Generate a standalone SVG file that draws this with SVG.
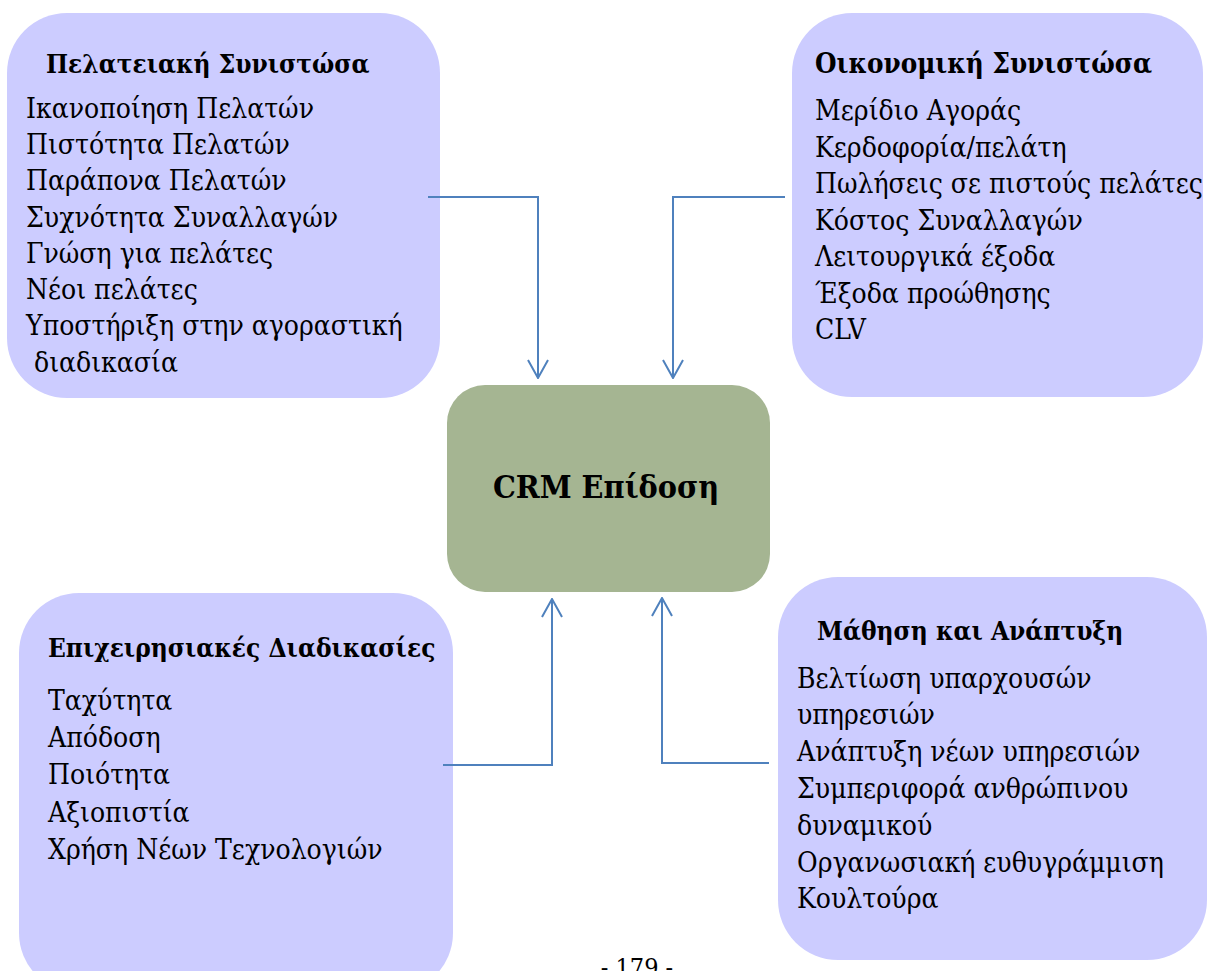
<svg xmlns="http://www.w3.org/2000/svg" width="1208" height="971" viewBox="0 0 1208 971">
  <style>
    .panel { fill: #ccccff; }
    .core { fill: #a5b592; }
    text { font-family: "DejaVu Serif", "Liberation Serif", serif; font-stretch: condensed; fill: #000; }
    .head { font-weight: bold; font-size: 26px; }
    .item { font-size: 28px; }
    .title { font-weight: bold; font-size: 32px; }
    .page { font-size: 25px; }
    .link { fill: none; stroke: #4f81bd; stroke-width: 2; }
  </style>
  <defs>
    <marker id="open-arrow" viewBox="0 0 20 22" refX="19" refY="11" markerWidth="20" markerHeight="22" markerUnits="userSpaceOnUse" orient="auto">
      <path d="M1,1 L19,11 L1,21" fill="none" stroke="#4f81bd" stroke-width="2"/>
    </marker>
  </defs>
  <rect width="1208" height="971" fill="#ffffff"/>

  <!-- Customer component -->
  <g id="customer">
    <rect class="panel" x="7" y="13" width="433" height="385" rx="60" ry="60"/>
    <text class="head" x="46" y="73">Πελατειακή Συνιστώσα</text>
    <text class="item" x="26" y="118">Ικανοποίηση Πελατών</text>
    <text class="item" x="26" y="154">Πιστότητα Πελατών</text>
    <text class="item" x="26" y="190">Παράπονα Πελατών</text>
    <text class="item" x="26" y="227">Συχνότητα Συναλλαγών</text>
    <text class="item" x="26" y="263">Γνώση για πελάτες</text>
    <text class="item" x="26" y="299">Νέοι πελάτες</text>
    <text class="item" x="26" y="335">Υποστήριξη στην αγοραστική</text>
    <text class="item" x="26" y="372" xml:space="preserve"> διαδικασία</text>
  </g>

  <!-- Financial component -->
  <g id="financial">
    <rect class="panel" x="792" y="13" width="411" height="384" rx="60" ry="60"/>
    <text class="head" x="815" y="73" style="font-size:27.5px">Οικονομική Συνιστώσα</text>
    <text class="item" x="815" y="120">Μερίδιο Αγοράς</text>
    <text class="item" x="815" y="157">Κερδοφορία/πελάτη</text>
    <text class="item" x="815" y="193">Πωλήσεις σε πιστούς πελάτες</text>
    <text class="item" x="815" y="230">Κόστος Συναλλαγών</text>
    <text class="item" x="815" y="266">Λειτουργικά έξοδα</text>
    <text class="item" x="815" y="303">Έξοδα προώθησης</text>
    <text class="item" x="815" y="339">CLV</text>
  </g>

  <!-- Central performance node -->
  <g id="crm">
    <rect class="core" x="447" y="385" width="323" height="207" rx="38" ry="38"/>
    <text class="title" x="606" y="498" text-anchor="middle">CRM Επίδοση</text>
  </g>

  <!-- Business processes -->
  <g id="processes">
    <rect class="panel" x="19" y="593" width="434" height="400" rx="60" ry="60"/>
    <text class="head" x="48" y="657">Επιχειρησιακές Διαδικασίες</text>
    <text class="item" x="48" y="710">Ταχύτητα</text>
    <text class="item" x="48" y="747">Απόδοση</text>
    <text class="item" x="48" y="784">Ποιότητα</text>
    <text class="item" x="48" y="822">Αξιοπιστία</text>
    <text class="item" x="48" y="859">Χρήση Νέων Τεχνολογιών</text>
  </g>

  <!-- Learning and growth -->
  <g id="learning">
    <rect class="panel" x="778" y="577" width="429" height="383" rx="60" ry="60"/>
    <text class="head" x="817" y="640">Μάθηση και Ανάπτυξη</text>
    <text class="item" x="797" y="688">Βελτίωση υπαρχουσών</text>
    <text class="item" x="797" y="724">υπηρεσιών</text>
    <text class="item" x="797" y="761">Ανάπτυξη νέων υπηρεσιών</text>
    <text class="item" x="797" y="798">Συμπεριφορά ανθρώπινου</text>
    <text class="item" x="797" y="835">δυναμικού</text>
    <text class="item" x="797" y="872">Οργανωσιακή ευθυγράμμιση</text>
    <text class="item" x="797" y="908">Κουλτούρα</text>
  </g>

  <!-- Connectors into the central node -->
  <g id="connectors">
    <polyline class="link" points="428,197 538,197 538,378" marker-end="url(#open-arrow)"/>
    <polyline class="link" points="785,197 673,197 673,378" marker-end="url(#open-arrow)"/>
    <polyline class="link" points="443,765 552,765 552,599" marker-end="url(#open-arrow)"/>
    <polyline class="link" points="769,763 662,763 662,598" marker-end="url(#open-arrow)"/>
  </g>

  <text class="page" x="637" y="976" text-anchor="middle">- 179 -</text>
</svg>
